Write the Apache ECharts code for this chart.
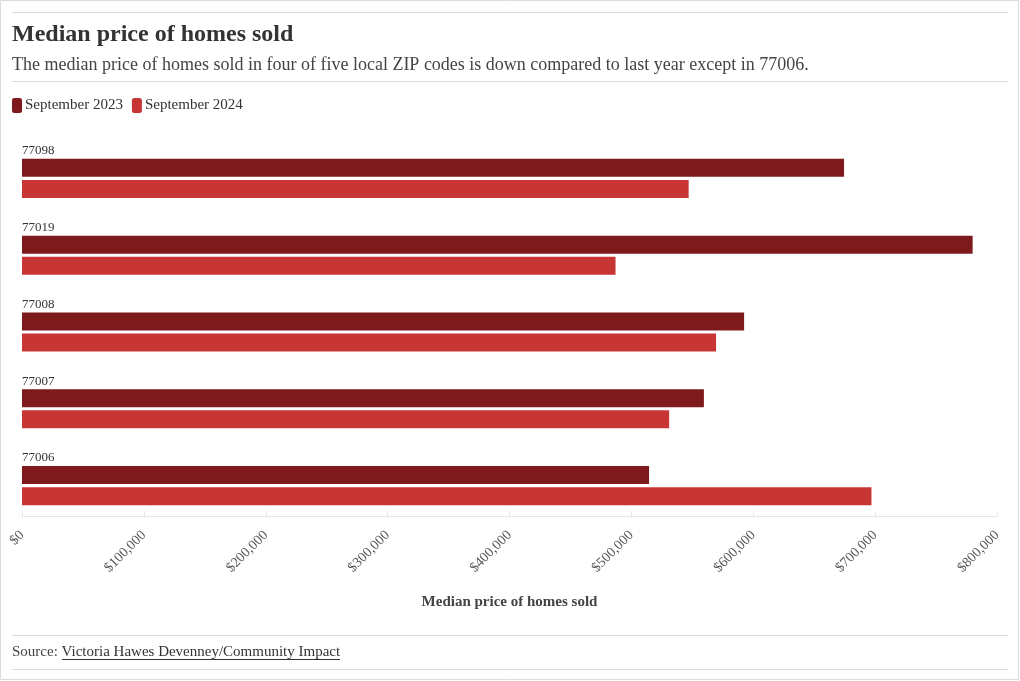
<!DOCTYPE html>
<html>
<head>
<meta charset="utf-8">
<script src="https://cdn.jsdelivr.net/npm/echarts@6/dist/echarts.min.js"></script>
<style>
html,body{margin:0;padding:0;background:#fff;}
#chart{width:1020px;height:681px;}
</style>
</head>
<body>
<div id="chart"></div>
<script>
const categories = ['77098', '77019', '77008', '77007', '77006'];
const sep2023 = [674500, 780000, 592500, 559500, 514500];
const sep2024 = [547000, 487000, 569500, 531000, 697000];
const seriesNames = ['September 2023', 'September 2024'];
const xTicks = { min: 0, max: 800000, interval: 100000 };

const FONT = '"Liberation Serif", serif';
const chart = echarts.init(document.getElementById('chart'));
chart.setOption({
  backgroundColor: '#fff',
  animation: false,
  textStyle: { fontFamily: FONT },
  title: {
    left: 12, top: 23, padding: 0,
    text: 'Median price of homes sold',
    subtext: 'The median price of homes sold in four of five local ZIP codes is down compared to last year except in 77006.',
    itemGap: 9,
    textStyle: { fontFamily: FONT, fontSize: 24, fontWeight: 'bold', color: '#333' },
    subtextStyle: { fontFamily: FONT, fontSize: 18, color: '#444' }
  },
  legend: {
    left: 12, top: 98, padding: 0,
    icon: 'roundRect', itemWidth: 10, itemHeight: 15, itemGap: 9,
    textStyle: { fontFamily: FONT, fontSize: 15, color: '#333', padding: [0, 0, 0, -2] },
    data: seriesNames
  },
  grid: { left: 22, right: 23, top: 140, bottom: 157, containLabel: false },
  xAxis: {
    type: 'value',
    min: xTicks.min, max: xTicks.max, interval: xTicks.interval,
    offset: -8,
    name: 'Median price of homes sold',
    nameLocation: 'middle', nameGap: 79,
    nameTextStyle: { fontFamily: FONT, fontSize: 15, fontWeight: 'bold', color: '#444' },
    axisLine: { show: true, lineStyle: { color: '#e6e6e6' } },
    axisTick: { show: true, length: 5, inside: true, lineStyle: { color: '#e6e6e6' } },
    splitLine: { show: false },
    axisLabel: {
      rotate: 45, margin: 17, fontSize: 14, color: '#555', fontFamily: FONT,
      formatter: v => '$' + v.toLocaleString('en-US')
    }
  },
  yAxis: {
    type: 'category', inverse: true, data: categories,
    axisLine: { show: false }, axisTick: { show: false }, axisLabel: { show: false }
  },
  series: [
    {
      name: seriesNames[0], type: 'bar', data: sep2023,
      barWidth: 18, barGap: '17%',
      itemStyle: { color: '#7e1a1c' },
      label: {
        show: true, position: [0, -8], align: 'left', verticalAlign: 'middle',
        formatter: p => p.name, fontSize: 13, color: '#333', fontFamily: FONT
      }
    },
    {
      name: seriesNames[1], type: 'bar', data: sep2024,
      barWidth: 18,
      itemStyle: { color: '#c83535' }
    }
  ],
  graphic: [
    { type: 'rect', shape: { x: 0.5, y: 0.5, width: 1018, height: 679 }, style: { fill: 'none', stroke: '#dcdcdc', lineWidth: 1 } },
    { type: 'line', shape: { x1: 12, y1: 12.5, x2: 1008, y2: 12.5 }, style: { stroke: '#dcdcdc', lineWidth: 1 } },
    { type: 'line', shape: { x1: 12, y1: 81.5, x2: 1008, y2: 81.5 }, style: { stroke: '#dcdcdc', lineWidth: 1 } },
    { type: 'line', shape: { x1: 12, y1: 635.5, x2: 1008, y2: 635.5 }, style: { stroke: '#dcdcdc', lineWidth: 1 } },
    { type: 'line', shape: { x1: 12, y1: 669.5, x2: 1008, y2: 669.5 }, style: { stroke: '#dcdcdc', lineWidth: 1 } },
    {
      type: 'text', left: 12, top: 645,
      style: {
        text: '{a|Source: }{b|Victoria Hawes Devenney/Community Impact}',
        rich: {
          a: { fontFamily: FONT, fontSize: 15, fill: '#444' },
          b: { fontFamily: FONT, fontSize: 15, fill: '#333' }
        }
      }
    },
    { type: 'line', shape: { x1: 62, y1: 659.5, x2: 340, y2: 659.5 }, style: { stroke: '#333', lineWidth: 1 } }
  ]
});
</script>
</body>
</html>
